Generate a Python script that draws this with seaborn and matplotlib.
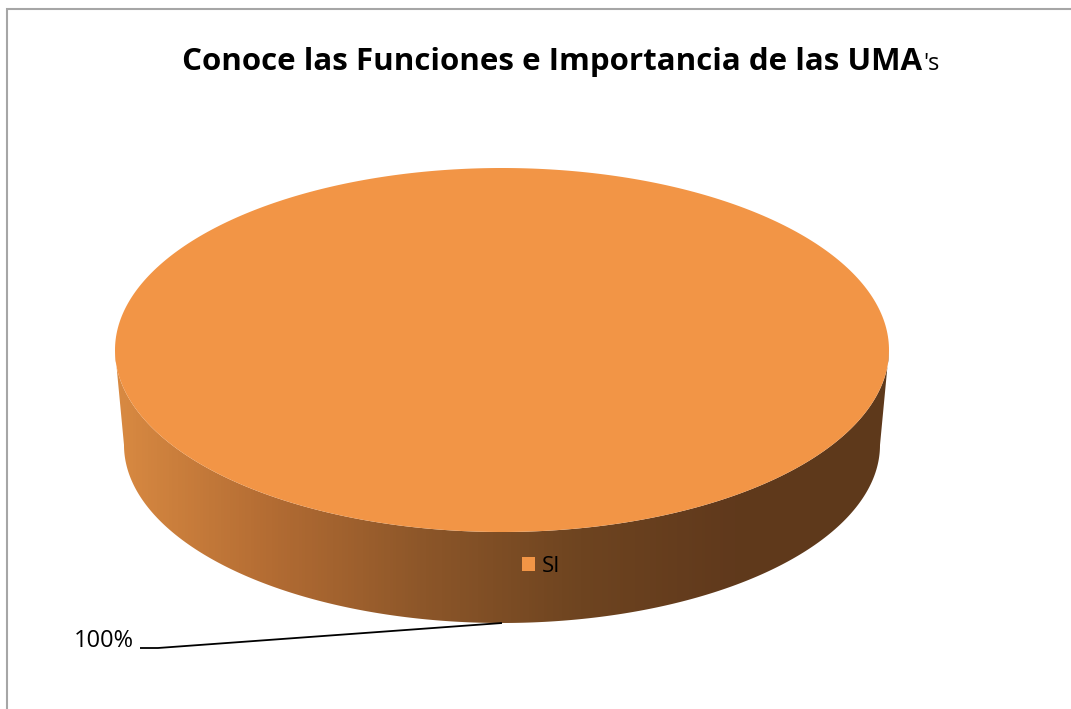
import numpy as np
import matplotlib
matplotlib.use("Agg")
import matplotlib.pyplot as plt
import seaborn as sns
from matplotlib.patches import Polygon, Rectangle

# datos del grafico
categorias = ["SI"]
valores = [100]
etiquetas = ["100%"]
titulo = "Conoce las Funciones e Importancia de las UMA"
sufijo_titulo = "'s"

color_si = "#F29546"
degradado_lado = ["#D98A42", "#B36C33", "#8C5629", "#6E4420", "#60391C", "#5E391B"]

sns.set_theme(style="white")
plt.rcParams['font.family'] = ['Open Sans', 'DejaVu Sans']

fig = plt.figure(figsize=(10.71, 7.09), dpi=100)
ax = fig.add_axes([0, 0, 1, 1])
ax.set_xlim(0, 1071)
ax.set_ylim(709, 0)
ax.axis('off')

# marco del area del grafico (solo se ven arriba e izquierda)
ax.plot([7, 7, 1071], [709, 9, 9], color="#A6A6A6", lw=1.5, solid_joinstyle='miter')

# geometria del pastel 3d (elipse superior e inferior)
cx, cy, a, b = 502, 350, 387, 182
cy2, a2, b2 = 445, 378, 178

fracs = np.array(valores) / sum(valores)
limites = np.concatenate([[0], np.cumsum(fracs)]) * 2 * np.pi

# pared lateral frontal con degradado
t = np.linspace(0, np.pi, 300)
arriba = np.column_stack([cx + a * np.cos(t), cy + b * np.sin(t)])
abajo = np.column_stack([cx + a2 * np.cos(t[::-1]), cy2 + b2 * np.sin(t[::-1])])
lado = Polygon(np.vstack([arriba, abajo]), closed=True, facecolor="none", edgecolor="none")
ax.add_patch(lado)
cmap = sns.blend_palette(degradado_lado, as_cmap=True)
grad = ax.imshow(np.linspace(0, 1, 256)[None, :], cmap=cmap, aspect='auto',
                 extent=[cx - a, cx + a, cy2 + b2 + 2, cy - 2], zorder=1)
grad.set_clip_path(lado)

# tapa superior por rebanada (empieza a las 12, sentido horario)
for i, cat in enumerate(categorias):
    tt = np.linspace(limites[i], limites[i + 1], 400) - np.pi / 2
    pts = np.column_stack([cx + a * np.cos(tt), cy + b * np.sin(tt)])
    if fracs[i] < 1:
        pts = np.vstack([[cx, cy], pts])
    ax.add_patch(Polygon(pts, closed=True, facecolor=color_si, edgecolor="none", zorder=2))

# etiqueta con linea guia hacia el centro de la rebanada
for i, et in enumerate(etiquetas):
    tm = (limites[i] + limites[i + 1]) / 2 - np.pi / 2
    px, py = cx + a2 * np.cos(tm), cy2 + b2 * np.sin(tm)
    ax.plot([140, 158, px], [648, 648, py], color="black", lw=1.3, zorder=3,
            solid_capstyle='butt')
    ax.text(134, 641, et, ha='right', va='center', fontsize=17, color="black")

# leyenda
manejadores = [Rectangle((0, 0), 1, 1, facecolor=color_si, edgecolor="none")]
ax.legend(manejadores, categorias, loc='center', bbox_to_anchor=(541, 566),
          bbox_transform=ax.transData, frameon=False, fontsize=16, labelcolor="black",
          handlelength=0.6, handleheight=0.6, handletextpad=0.3)

# titulo: parte en negrita y "'s" normal
t1 = ax.text(182, 70, titulo, ha='left', va='baseline', fontsize=22.5,
             fontweight='bold', color="black")
fig.canvas.draw()
bb = t1.get_window_extent()
x_fin = ax.transData.inverted().transform((bb.x1, bb.y0))[0]
ax.text(x_fin + 1, 70, sufijo_titulo, ha='left', va='baseline', fontsize=17, color="black")

fig.savefig("out.png", dpi=100)
